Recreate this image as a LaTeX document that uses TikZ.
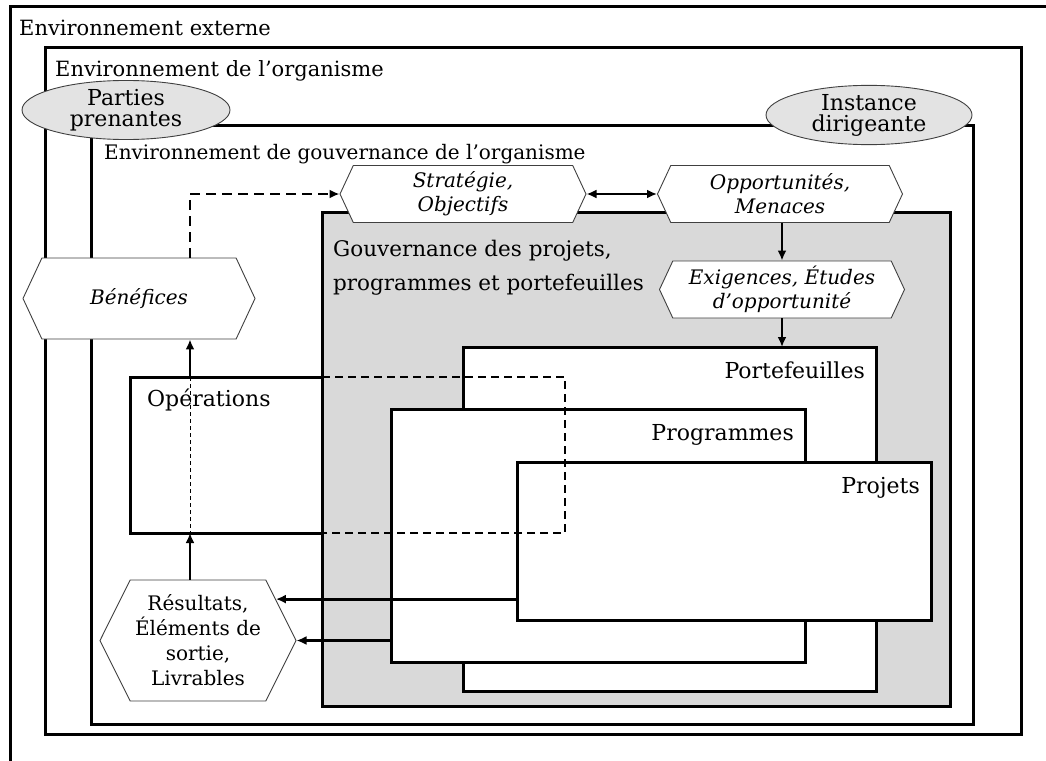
\documentclass[tikz,border=0pt]{standalone}
\usepackage{fontspec}
\setmainfont{DejaVu Serif}
\usetikzlibrary{arrows.meta,shapes.symbols,shapes.geometric}
\definecolor{govgray}{HTML}{D9D9D9}
\definecolor{ellgray}{HTML}{E3E3E3}
\definecolor{hexline}{HTML}{404040}
\begin{document}
\begin{tikzpicture}[x=1pt,y=-1pt,
  txt/.style={font=\fontsize{21}{24}\selectfont, inner sep=0},
  boxlbl/.style={font=\fontsize{22}{26}\selectfont, inner sep=0},
  frame/.style={draw, line width=3pt, inner sep=0, outer sep=0, anchor=north west},
  hexa/.style={signal, signal to=west and east, signal pointer angle=130, draw=hexline, line width=0.9pt, fill=white, inner sep=0, align=center, font=\fontsize{20}{24}\selectfont\itshape},
  ell/.style={ellipse, draw=hexline, line width=0.9pt, fill=ellgray, inner sep=0, align=center, font=\fontsize{22}{21}\selectfont},
  arr/.style={line width=2.8pt, -{Latex[length=10pt,width=9pt]}},
  bigdash/.style={line width=2.8pt, dash pattern=on 10pt off 6pt},
  opsdash/.style={line width=2pt, dash pattern=on 8pt off 5pt},
  thindash/.style={line width=0.8pt, dash pattern=on 4pt off 3pt},
]
\useasboundingbox (0,0) rectangle (1046,760);
% outer environment (cut by the page)
\draw[line width=3pt] (10,770) -- (10,7) -- (1056,7);
\node[txt, anchor=base west] (lext) at (19,36) {Environnement externe};
% organisation
\node[frame, minimum width=976pt, minimum height=686pt] (org) at (45,48) {};
\node[txt, anchor=base west] (lorg) at (55,77) {Environnement de l’organisme};
% governance environment
\node[frame, minimum width=882pt, minimum height=599pt] (gov) at (91,125) {};
\node[txt, anchor=base west, font=\fontsize{20}{24}\selectfont] (lgov) at (104,159) {Environnement de gouvernance de l’organisme};
% governance of projects
\node[frame, fill=govgray, minimum width=628pt, minimum height=494pt] (gpp) at (322,212) {};
\node[inner sep=0, anchor=base west, align=left, font=\fontsize{21.5}{34}\selectfont] (lgpp) at (333,290) {Gouvernance des projets,\\programmes et portefeuilles};
% portfolios, programmes, projects
\node[frame, fill=white, minimum width=413pt, minimum height=344pt] (port) at (463,347) {};
\node[boxlbl, anchor=base east] (lport) at ([shift={(-11,31)}]port.north east) {Portefeuilles};
\node[frame, fill=white, minimum width=414pt, minimum height=253pt] (prog) at (391,409) {};
\node[boxlbl, anchor=base east] (lprog) at ([shift={(-11,31)}]prog.north east) {Programmes};
\node[frame, fill=white, minimum width=414pt, minimum height=158pt] (prj) at (517,462) {};
\node[boxlbl, anchor=base east] (lprj) at ([shift={(-11,31)}]prj.north east) {Projets};
% operations
\node[frame, fill=white, minimum width=192pt, minimum height=156pt] (ops) at (130,377) {};
\node[boxlbl, anchor=base west] (lops) at ([shift={(17,29)}]ops.north west) {Opérations};
\coordinate (opsx) at (565,0);
\coordinate (col) at (190,0);
\draw[opsdash] (ops.north east) -- (ops.north east -| opsx) -- (ops.south east -| opsx) -- (ops.south east);
\draw[thindash] (ops.north -| col) -- (ops.south -| col);
% ellipses
\node[ell, minimum width=208pt, minimum height=56pt] (pp) at (126,110) {Parties\\prenantes};
\node[ell, minimum width=206pt, minimum height=55pt] (inst) at (869,115) {Instance\\dirigeante};
% hexagons
\node[hexa, minimum width=246pt, minimum height=57pt] (strat) at (463,194) {Stratégie,\\Objectifs};
\node[hexa, minimum width=245pt, minimum height=57pt] (opp) at (780,194) {Opportunités,\\Menaces};
\node[hexa, minimum width=245pt, minimum height=57pt] (exi) at (782,289.5) {Exigences, Études\\d’opportunité};
\node[hexa, minimum width=232pt, minimum height=81pt] (ben) at (139,298.5) {Bénéfices};
\node[hexa, signal pointer angle=127, font=\fontsize{20}{25}\selectfont, minimum width=196pt, minimum height=121pt] (res) at (198,640.5) {Résultats,\\Éléments de\\sortie,\\Livrables};
% connectors
\draw[bigdash, -{Latex[length=10pt,width=9pt]}] (ben.north -| col) |- (strat.west);
\draw[line width=2.8pt, {Latex[length=10pt,width=9pt]}-{Latex[length=10pt,width=9pt]}] (strat.east) -- (opp.west);
\draw[arr] (opp.south -| exi.north) -- (exi.north);
\draw[arr] (exi.south) -- (exi.south |- port.north);
\draw[arr] (ops.north -| col) -- (ben.south -| col);
\draw[arr] (res.north -| col) -- (ops.south -| col);
\draw[arr] (prj.west |- res.28) -- (res.28);
\draw[arr] (prog.west |- res.east) -- (res.east);
\end{tikzpicture}
\end{document}
